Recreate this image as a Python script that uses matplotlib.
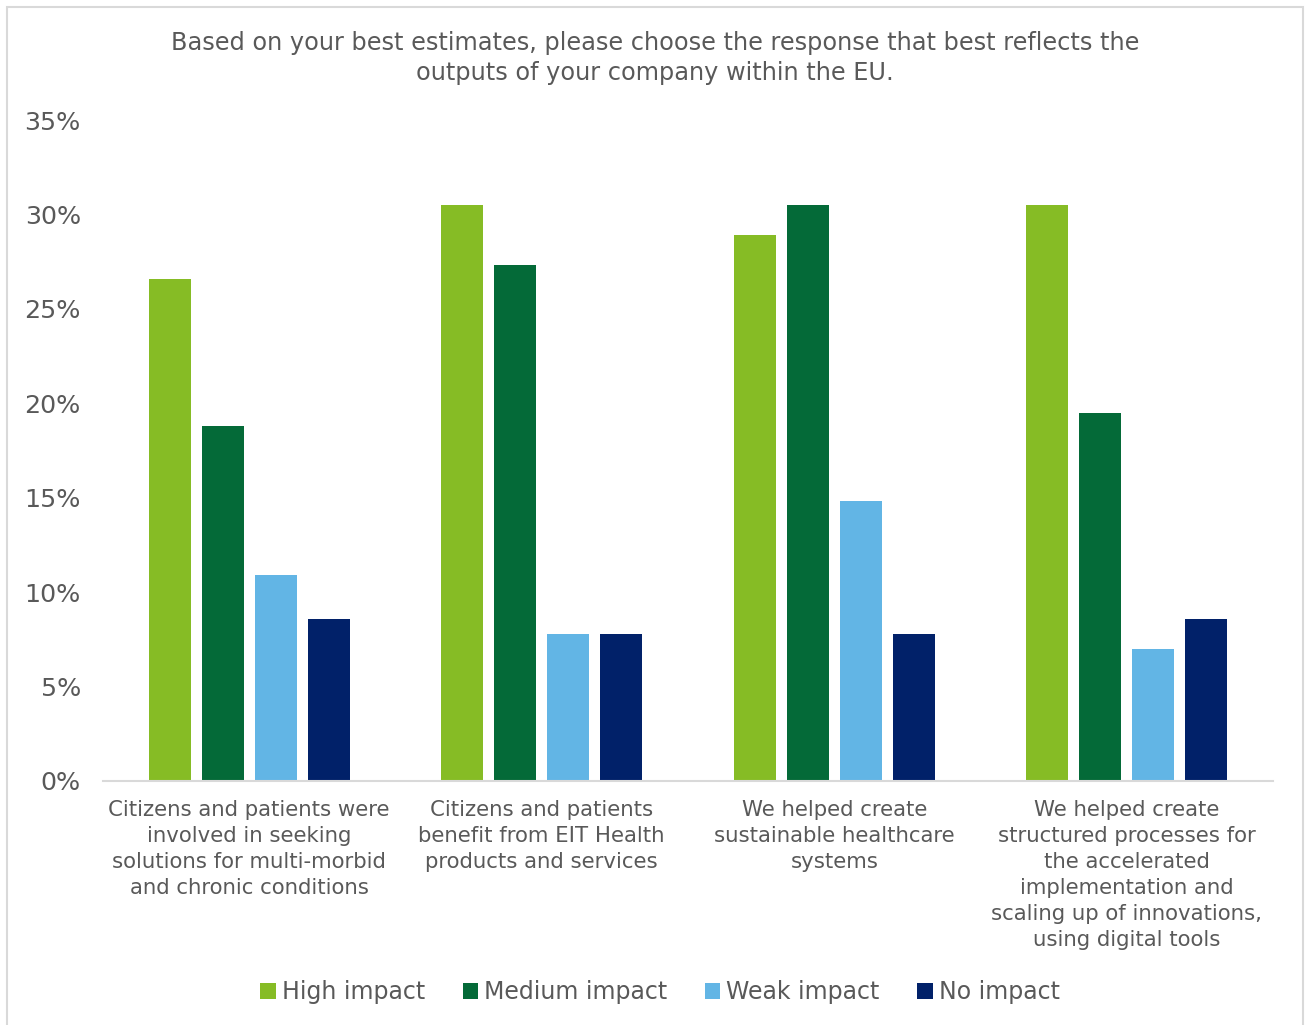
import numpy as np
import matplotlib.pyplot as plt
from matplotlib.patches import Rectangle

categories = [
    'Citizens and patients were\ninvolved in seeking\nsolutions for multi-morbid\nand chronic conditions',
    'Citizens and patients\nbenefit from EIT Health\nproducts and services',
    'We helped create\nsustainable healthcare\nsystems',
    'We helped create\nstructured processes for\nthe accelerated\nimplementation and\nscaling up of innovations,\nusing digital tools',
]
series = ['High impact', 'Medium impact', 'Weak impact', 'No impact']
high = [26.6, 30.5, 28.9, 30.5]
medium = [18.8, 27.3, 30.5, 19.5]
weak = [10.9, 7.8, 14.8, 7.0]
none_ = [8.6, 7.8, 7.8, 8.6]
colors = ['#86BC25', '#046A38', '#62B5E5', '#012169']

title = ('Based on your best estimates, please choose the response that best reflects the\n'
         'outputs of your company within the EU.')

text_col = '#595959'
grid_col = '#D9D9D9'
plt.rcParams['font.family'] = ['DejaVu Sans']

W, H = 1305, 1025
fig = plt.figure(figsize=(W / 100, H / 100), dpi=100)

# light grey frame round the chart area
fig.patches.append(Rectangle((7 / W, -0.01), (1303 - 7) / W, 1 - 7 / H + 0.01,
                             transform=fig.transFigure, fill=False,
                             edgecolor=grid_col, linewidth=1.5))

ax = fig.add_axes([103 / W, (H - 781) / H, 1170 / W, (781 - 120) / H])

x = np.arange(len(categories))
bw = 0.1436
step = 0.181
for i, (vals, name) in enumerate(zip([high, medium, weak, none_], series)):
    ax.bar(x + (i - 1.5) * step, vals, width=bw, color=colors[i], label=name, zorder=2)

ax.set_xlim(-0.5, len(categories) - 0.5)
ax.set_ylim(0, 35)
ax.set_yticks(np.arange(0, 36, 5))
ax.set_yticklabels([f'{v}%' for v in range(0, 36, 5)])
ax.set_xticks(x)
ax.set_xticklabels(categories, fontsize=15.3, color=text_col, linespacing=1.37)
ax.tick_params(axis='y', length=0, pad=16, labelsize=18.3, labelcolor=text_col)
ax.tick_params(axis='x', length=0, pad=14)

for s in ['top', 'right', 'left']:
    ax.spines[s].set_visible(False)
ax.spines['bottom'].set_color(grid_col)
ax.spines['bottom'].set_linewidth(1.5)

fig.text(655 / W, 1 - 58 / H, title, ha='center', va='center', fontsize=17.3,
         color=text_col, linespacing=1.35)

leg = fig.legend(loc='center', bbox_to_anchor=(660 / W, 1 - 992 / H), ncol=4,
                 frameon=False, fontsize=17, handlelength=0.65, handleheight=0.65,
                 handletextpad=0.25, columnspacing=1.6)
for t in leg.get_texts():
    t.set_color(text_col)

fig.savefig('out.png', dpi=100)
